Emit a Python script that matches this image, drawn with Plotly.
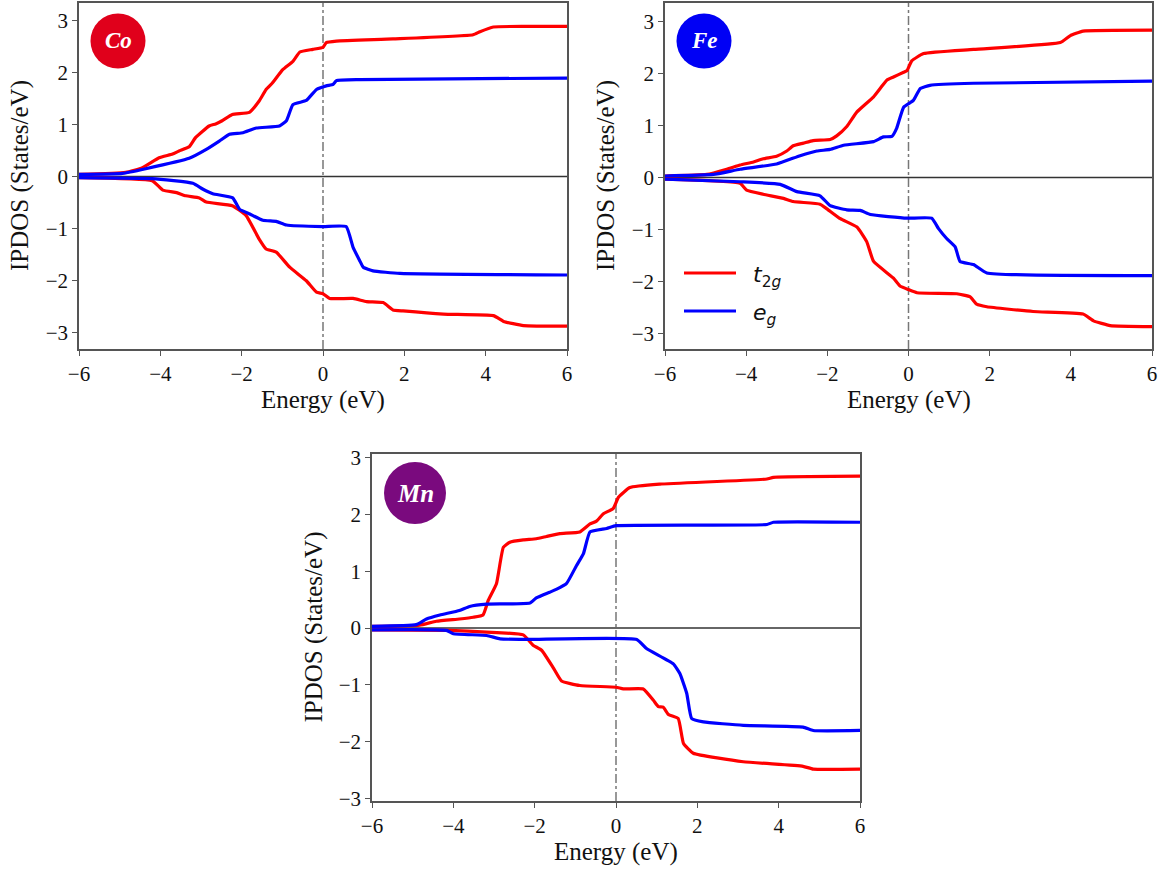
import plotly.graph_objects as go

# ---------------- Data (Energy in eV, IPDOS in States/eV) ----------------
# Co
CO_T2G_UP_E = [-6, -4.85, -4.44, -4.03, -3.7, -3.54, -3.29, -3.13, -2.8, -2.64, -2.48, -2.23, -1.81, -1.57, -1.4, -1.24, -0.99, -0.74, -0.57, -0.25, 0, 0.08, 0.33, 1.72, 3.69, 3.86, 4.19, 5.0, 6]
CO_T2G_UP = [0.04, 0.08, 0.17, 0.36, 0.43, 0.49, 0.57, 0.75, 0.97, 1.01, 1.07, 1.19, 1.23, 1.45, 1.67, 1.8, 2.05, 2.21, 2.39, 2.44, 2.48, 2.57, 2.6, 2.64, 2.72, 2.78, 2.87, 2.88, 2.88]
CO_EG_UP_E = [-6, -4.93, -4.36, -3.29, -2.87, -2.55, -2.3, -1.97, -1.64, -1.07, -0.9, -0.74, -0.41, -0.16, 0.08, 0.25, 0.33, 0.9, 6]
CO_EG_UP = [0.04, 0.06, 0.15, 0.35, 0.52, 0.68, 0.81, 0.84, 0.93, 0.97, 1.07, 1.38, 1.46, 1.67, 1.74, 1.77, 1.84, 1.86, 1.89]
CO_T2G_DN_E = [-6, -4.2, -3.94, -3.6, -3.37, -3.04, -2.87, -2.23, -1.89, -1.57, -1.4, -1.15, -0.82, -0.41, -0.16, 0, 0.16, 0.74, 1.07, 1.48, 1.72, 1.97, 2.96, 4.19, 4.44, 4.93, 6]
CO_T2G_DN = [-0.02, -0.08, -0.26, -0.31, -0.37, -0.41, -0.49, -0.56, -0.75, -1.2, -1.39, -1.45, -1.74, -2.0, -2.22, -2.25, -2.34, -2.34, -2.4, -2.42, -2.56, -2.58, -2.64, -2.67, -2.78, -2.86, -2.87]
CO_EG_DN_E = [-6, -4.2, -3.2, -2.96, -2.71, -2.22, -2.05, -1.8, -1.48, -1.15, -0.9, 0, 0.57, 0.74, 0.9, 0.99, 1.23, 1.89, 6]
CO_EG_DN = [-0.02, -0.04, -0.13, -0.24, -0.33, -0.41, -0.63, -0.72, -0.84, -0.86, -0.93, -0.96, -0.96, -1.36, -1.61, -1.74, -1.81, -1.86, -1.89]

# Fe
FE_T2G_UP_E = [-6, -4.97, -4.48, -4.15, -3.82, -3.58, -3.25, -3.0, -2.84, -2.59, -2.35, -1.93, -1.77, -1.52, -1.27, -0.86, -0.53, -0.37, -0.12, -0.04, 0.08, 0.37, 1.6, 3.74, 3.98, 4.3, 6]
FE_T2G_UP = [0.03, 0.06, 0.16, 0.24, 0.3, 0.36, 0.41, 0.51, 0.61, 0.66, 0.71, 0.73, 0.8, 0.98, 1.26, 1.55, 1.87, 1.93, 2.02, 2.05, 2.24, 2.38, 2.46, 2.59, 2.72, 2.81, 2.83]
FE_EG_UP_E = [-6, -4.81, -4.15, -3.25, -2.67, -2.26, -1.93, -1.6, -0.86, -0.62, -0.41, -0.29, -0.12, 0.12, 0.29, 0.53, 1.6, 6]
FE_EG_UP = [0.03, 0.06, 0.16, 0.26, 0.42, 0.51, 0.54, 0.62, 0.69, 0.78, 0.79, 0.95, 1.35, 1.48, 1.71, 1.77, 1.81, 1.85]
FE_T2G_DN_E = [-6, -4.15, -3.99, -3.58, -3.08, -2.84, -2.18, -2.01, -1.68, -1.27, -1.03, -0.86, -0.37, -0.21, 0, 0.21, 1.19, 1.52, 1.68, 1.93, 3.07, 4.3, 4.56, 4.97, 6]
FE_T2G_DN = [-0.03, -0.11, -0.24, -0.32, -0.4, -0.46, -0.51, -0.6, -0.79, -0.95, -1.23, -1.61, -1.93, -2.08, -2.15, -2.21, -2.23, -2.29, -2.43, -2.48, -2.57, -2.62, -2.75, -2.84, -2.86]
FE_EG_DN_E = [-6, -4.15, -3.16, -2.75, -2.18, -1.93, -1.52, -1.19, -0.94, -0.04, 0.57, 0.74, 0.94, 1.15, 1.27, 1.6, 1.93, 6]
FE_EG_DN = [-0.03, -0.08, -0.13, -0.27, -0.35, -0.54, -0.62, -0.63, -0.71, -0.78, -0.78, -0.98, -1.17, -1.33, -1.61, -1.67, -1.83, -1.88]

# Mn
MN_T2G_UP_E = [-6, -4.83, -4.42, -3.85, -3.51, -3.27, -3.14, -2.94, -2.77, -2.61, -2.28, -1.96, -1.71, -1.38, -0.89, -0.64, -0.48, -0.31, -0.07, 0.06, 0.34, 1.08, 3.71, 3.87, 6]
MN_T2G_UP = [0.03, 0.05, 0.12, 0.16, 0.19, 0.23, 0.49, 0.78, 1.42, 1.51, 1.55, 1.57, 1.61, 1.66, 1.69, 1.83, 1.88, 2.01, 2.1, 2.3, 2.47, 2.53, 2.62, 2.65, 2.67]
MN_EG_UP_E = [-6, -4.91, -4.66, -4.33, -3.85, -3.6, -3.18, -2.12, -1.96, -1.63, -1.47, -1.22, -0.97, -0.8, -0.64, -0.23, 0, 3.71, 3.87, 6]
MN_EG_UP = [0.03, 0.06, 0.16, 0.23, 0.31, 0.38, 0.42, 0.44, 0.53, 0.63, 0.68, 0.78, 1.1, 1.31, 1.69, 1.75, 1.8, 1.82, 1.86, 1.86]
MN_T2G_DN_E = [-6, -4.09, -3.18, -2.28, -2.04, -1.83, -1.55, -1.34, -0.89, 0, 0.18, 0.67, 0.92, 1.04, 1.16, 1.29, 1.53, 1.66, 1.9, 3.13, 4.6, 4.85, 6]
MN_T2G_DN = [-0.03, -0.04, -0.07, -0.12, -0.3, -0.39, -0.69, -0.93, -1.01, -1.04, -1.07, -1.07, -1.27, -1.38, -1.39, -1.52, -1.59, -2.03, -2.2, -2.35, -2.43, -2.48, -2.48]
MN_EG_DN_E = [-6, -4.17, -4.0, -3.18, -2.85, -2.2, 0.51, 0.75, 1.41, 1.57, 1.74, 1.86, 2.15, 3.13, 4.6, 4.85, 6]
MN_EG_DN = [-0.03, -0.04, -0.1, -0.13, -0.19, -0.2, -0.2, -0.36, -0.63, -0.8, -1.15, -1.59, -1.65, -1.71, -1.74, -1.8, -1.8]

PANEL_LABELS = ["Co", "Fe", "Mn"]
PANEL_COLORS = ["#E0001B", "#0000F5", "#7A0A7E"]
X_TICKS = [-6, -4, -2, 0, 2, 4, 6]
Y_TICKS = [-3, -2, -1, 0, 1, 2, 3]

# ---------------- Figure ----------------
W, H = 1166, 869
RED, BLUE = "#FF0000", "#0000FF"
FONT = "Liberation Serif"
AX = "#555555"
TXT = "#111111"

fig = go.Figure()

panels = [
    dict(xa="x", ya="y",
         curves=[(CO_T2G_UP_E, CO_T2G_UP, RED), (CO_EG_UP_E, CO_EG_UP, BLUE),
                 (CO_T2G_DN_E, CO_T2G_DN, RED), (CO_EG_DN_E, CO_EG_DN, BLUE)],
         px=(79, 567), py=(3, 349), yr=(-3.31, 3.33)),
    dict(xa="x2", ya="y2",
         curves=[(FE_T2G_UP_E, FE_T2G_UP, RED), (FE_EG_UP_E, FE_EG_UP, BLUE),
                 (FE_T2G_DN_E, FE_T2G_DN, RED), (FE_EG_DN_E, FE_EG_DN, BLUE)],
         px=(665, 1152), py=(3, 349), yr=(-3.29, 3.35)),
    dict(xa="x3", ya="y3",
         curves=[(MN_T2G_UP_E, MN_T2G_UP, RED), (MN_EG_UP_E, MN_EG_UP, BLUE),
                 (MN_T2G_DN_E, MN_T2G_DN, RED), (MN_EG_DN_E, MN_EG_DN, BLUE)],
         px=(372, 860), py=(454, 801), yr=(-3.04, 3.06)),
]

layout_axes = {}
shapes = []
annotations = []
for i, p in enumerate(panels):
    for (e, v, c) in p["curves"]:
        fig.add_trace(go.Scatter(x=e, y=v, mode="lines", xaxis=p["xa"], yaxis=p["ya"],
                                 line=dict(color=c, width=3.2, shape="spline", smoothing=0.4),
                                 showlegend=False, hoverinfo="skip"))
    sfx = "" if i == 0 else str(i + 1)
    xdom = [p["px"][0] / W, p["px"][1] / W]
    ydom = [1 - p["py"][1] / H, 1 - p["py"][0] / H]
    common = dict(showline=True, mirror=True, linecolor=AX, linewidth=1.5,
                  ticks="outside", ticklen=5, tickwidth=1.3, tickcolor=AX,
                  showgrid=False, zeroline=False, automargin=False,
                  tickfont=dict(family=FONT, size=21, color=TXT))
    layout_axes["xaxis" + sfx] = dict(domain=xdom, range=[-6, 6], tickvals=X_TICKS,
                                      anchor="y" + sfx, **common)
    layout_axes["yaxis" + sfx] = dict(domain=ydom, range=list(p["yr"]), tickvals=Y_TICKS,
                                      anchor="x" + sfx, **common)
    # axis titles
    annotations.append(dict(xref="paper", yref="paper",
                            x=(p["px"][0] + p["px"][1]) / 2 / W, y=1 - (p["py"][1] + 51) / H,
                            text="Energy (eV)", showarrow=False, xanchor="center", yanchor="middle",
                            font=dict(family=FONT, size=25, color=TXT)))
    annotations.append(dict(xref="paper", yref="paper",
                            x=(p["px"][0] - 59) / W, y=1 - (p["py"][0] + p["py"][1]) / 2 / H,
                            text="IPDOS (States/eV)", showarrow=False, textangle=-90,
                            xanchor="center", yanchor="middle",
                            font=dict(family=FONT, size=25, color=TXT)))
    # zero line and Fermi level
    shapes.append(dict(type="line", xref=p["xa"] + " domain", yref=p["ya"], x0=0, x1=1, y0=0, y1=0,
                       line=dict(color="#333333", width=1.5), layer="below"))
    shapes.append(dict(type="line", xref=p["xa"], yref=p["ya"] + " domain", x0=0, x1=0, y0=0, y1=1,
                       line=dict(color="#777777", width=1.5, dash="dashdot"), layer="below"))
    # element badge
    cx = (p["px"][0] + (39 if i < 2 else 43)) / W
    cy = 1 - (p["py"][0] + (38 if i < 2 else 39)) / H
    r = 27.5 if i < 2 else 31
    shapes.append(dict(type="circle", xref="paper", yref="paper", xsizemode="pixel", ysizemode="pixel",
                       xanchor=cx, yanchor=cy, x0=-r, x1=r, y0=-r, y1=r,
                       fillcolor=PANEL_COLORS[i], line=dict(width=0)))
    annotations.append(dict(xref="paper", yref="paper", x=cx, y=cy, showarrow=False,
                            text="<b><i>%s</i></b>" % PANEL_LABELS[i],
                            font=dict(family=FONT, size=23 if i < 2 else 25, color="white"),
                            xanchor="center", yanchor="middle"))

# legend (in Fe panel)
LEGEND = [("<i>t</i><sub>2<i>g</i></sub>", RED, 273), ("<i>e</i><sub><i>g</i></sub>", BLUE, 311)]
for txt, col, ypx in LEGEND:
    shapes.append(dict(type="line", xref="paper", yref="paper",
                       x0=684 / W, x1=736 / W, y0=1 - ypx / H, y1=1 - ypx / H,
                       line=dict(color=col, width=3.2)))
    annotations.append(dict(xref="paper", yref="paper", x=751 / W, y=1 - (ypx + 3) / H,
                            showarrow=False, text=txt, xanchor="left", yanchor="middle",
                            font=dict(family="DejaVu Sans", size=22, color=TXT)))

fig.update_layout(width=W, height=H, margin=dict(l=0, r=0, t=0, b=0),
                  paper_bgcolor="white", plot_bgcolor="white",
                  shapes=shapes, annotations=annotations, **layout_axes)

fig.write_html("out.html", config={"displayModeBar": False},
               post_script="document.body.style.margin='0';document.body.style.overflow='hidden';")
